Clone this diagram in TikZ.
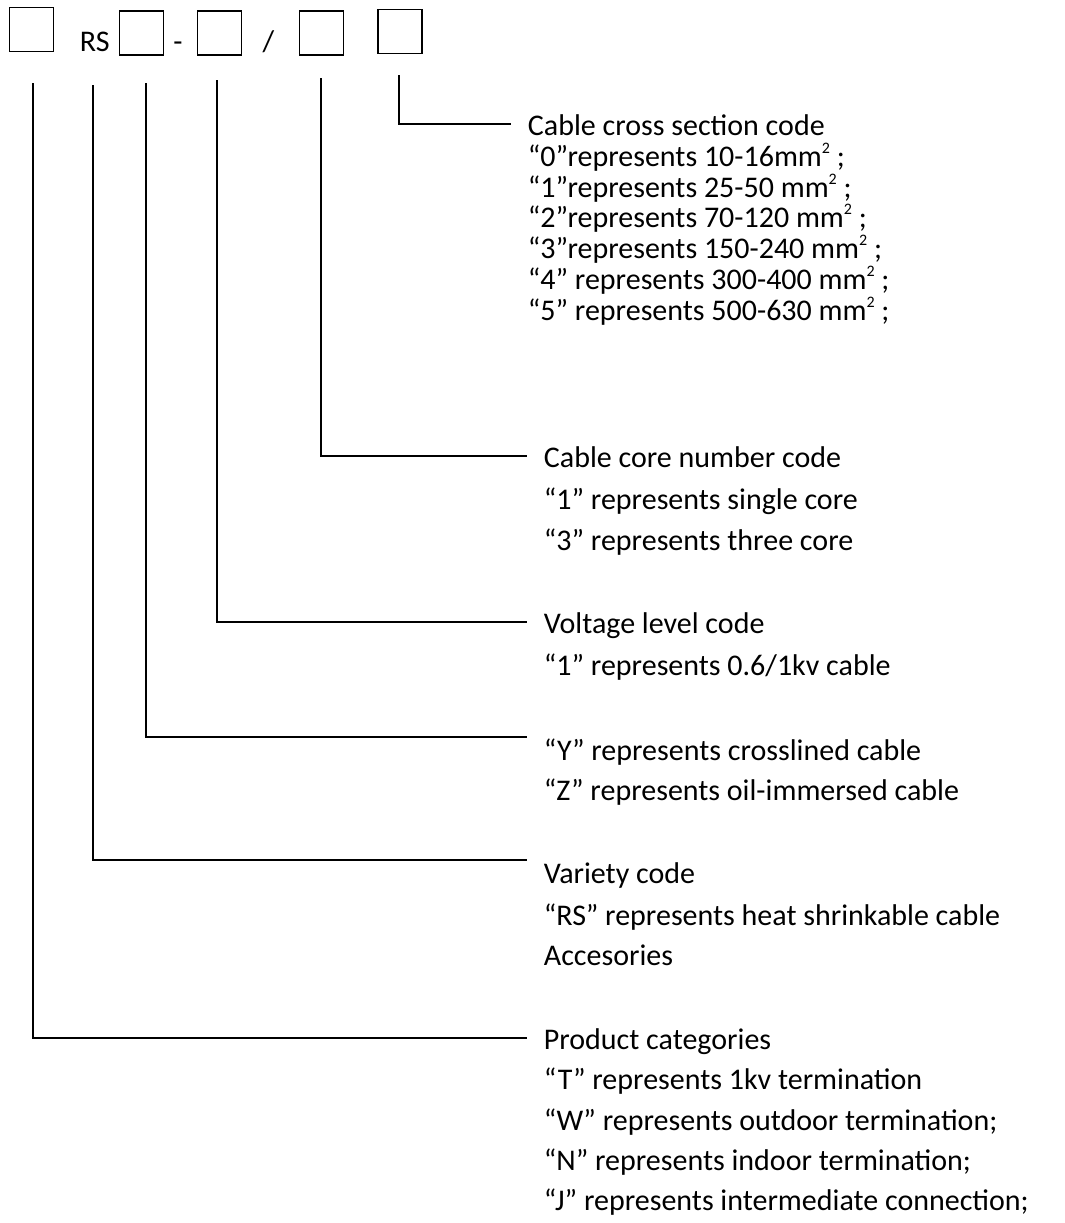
\documentclass[tikz,border=0pt]{standalone}
\usepackage{fontspec}
\setmainfont{Carlito}
\newcommand{\msq}{\raisebox{0.85ex}{\fontsize{8}{8}\selectfont 2}}
\begin{document}
\begin{tikzpicture}[x=0.5pt,y=-0.5pt,line width=0.9pt,
    font=\fontsize{15}{18}\selectfont,
    cell/.style={draw,minimum size=22pt,inner sep=0pt},
    lbl/.style={anchor=base west,inner xsep=8pt,inner ysep=0pt,text height=11pt,text depth=0pt}]
    \useasboundingbox (0,0) rectangle (1065,1223);
    \node (b1) [cell] at (31.5,29.5) {};
    \node (rs) [anchor=base west,inner sep=0pt] at (79,51) {RS};
    \node (b2) [cell] at (141.5,33) {};
    \node (dash) [anchor=base,inner sep=0pt] at (178,51) {-};
    \node (b3) [cell] at (219.5,33) {};
    \node (slash) [anchor=base,inner sep=0pt] at (268.5,51) {/};
    \node (b4) [cell] at (321.5,33) {};
    \node (b5) [cell] at (400,31.5) {};

    \node (sec) [lbl] at (511,135) {Cable cross section code};
    \node (sec0) [lbl] at (511,166) {“0”represents 10-16mm\msq{} ;};
    \node (sec1) [lbl] at (511,197) {“1”represents 25-50 mm\msq{} ;};
    \node (sec2) [lbl] at (511,227) {“2”represents 70-120 mm\msq{} ;};
    \node (sec3) [lbl] at (511,258) {“3”represents 150-240 mm\msq{} ;};
    \node (sec4) [lbl] at (511,289) {“4” represents 300-400 mm\msq{} ;};
    \node (sec5) [lbl] at (511,320) {“5” represents 500-630 mm\msq{} ;};

    \node (core) [lbl] at (527,467) {Cable core number code};
    \node (core1) [lbl] at (527,509) {“1” represents single core};
    \node (core3) [lbl] at (527,550) {“3” represents three core};

    \node (volt) [lbl] at (527,633) {Voltage level code};
    \node (volt1) [lbl] at (527,675) {“1” represents 0.6/1kv cable};

    \node (yz) [lbl] at (527,760) {“Y” represents crosslined cable};
    \node (yz2) [lbl] at (527,800) {“Z” represents oil-immersed cable};

    \node (var) [lbl] at (527,883) {Variety code};
    \node (var1) [lbl] at (527,925) {“RS” represents heat shrinkable cable};
    \node (var2) [lbl] at (527,965) {Accesories};

    \node (cat) [lbl] at (527,1049) {Product categories};
    \node (cat1) [lbl] at (527,1089) {“T” represents 1kv termination};
    \node (cat2) [lbl] at (527,1130) {“W” represents outdoor termination;};
    \node (cat3) [lbl] at (527,1170) {“N” represents indoor termination;};
    \node (cat4) [lbl] at (527,1210) {“J” represents intermediate connection;};

    \coordinate (p1) at (33,83);
    \coordinate (p2) at (93,85);
    \coordinate (p3) at (146,83);
    \coordinate (p4) at (217,80);
    \coordinate (p5) at (321,78);
    \coordinate (p6) at (399,75);
    \draw (p1) |- (cat.west);
    \draw (p2) |- (var.north west);
    \draw (p3) |- (yz.north west);
    \draw (p4) |- (volt.west);
    \draw (p5) |- (core.west);
    \draw (p6) |- (sec.west);
\end{tikzpicture}
\end{document}
